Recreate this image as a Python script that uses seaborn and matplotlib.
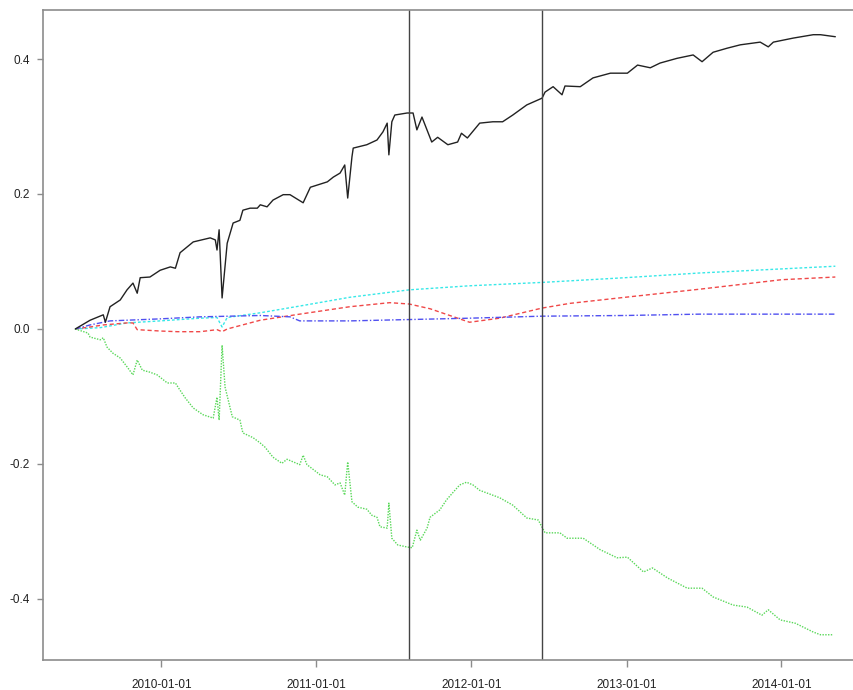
import matplotlib
matplotlib.use("Agg")
import matplotlib.pyplot as plt
import matplotlib.dates as mdates
import pandas as pd
import seaborn as sns

# ---- data ----
black_dates = ["2009-06-12", "2009-07-17", "2009-08-17", "2009-08-22", "2009-09-02", "2009-09-26",
               "2009-10-12", "2009-10-26", "2009-11-05", "2009-11-12", "2009-12-05", "2009-12-29",
               "2010-01-22", "2010-02-03", "2010-02-14", "2010-03-17", "2010-04-26", "2010-05-08",
               "2010-05-12", "2010-05-17", "2010-05-24", "2010-06-05", "2010-06-19", "2010-07-05",
               "2010-07-12", "2010-07-29", "2010-08-15", "2010-08-22", "2010-09-07", "2010-09-21",
               "2010-10-15", "2010-10-31", "2010-12-01", "2010-12-18", "2011-01-27", "2011-02-10",
               "2011-02-26", "2011-03-09", "2011-03-16", "2011-03-26", "2011-03-29", "2011-04-30",
               "2011-05-24", "2011-06-07", "2011-06-17", "2011-06-21", "2011-06-28", "2011-07-05",
               "2011-08-03", "2011-08-17", "2011-08-26", "2011-09-07", "2011-09-30", "2011-10-14",
               "2011-11-07", "2011-11-30", "2011-12-09", "2011-12-23", "2012-01-21", "2012-02-21",
               "2012-03-15", "2012-04-08", "2012-05-11", "2012-06-16", "2012-06-23", "2012-07-12",
               "2012-08-02", "2012-08-09", "2012-09-14", "2012-10-14", "2012-11-24", "2013-01-03",
               "2013-01-27", "2013-02-26", "2013-03-21", "2013-04-30", "2013-06-07", "2013-06-28",
               "2013-07-24", "2013-08-26", "2013-09-26", "2013-11-12", "2013-12-01", "2013-12-13",
               "2014-01-29", "2014-03-17", "2014-04-03", "2014-05-08"]
black_values = [0.000, 0.013, 0.021, 0.010, 0.033, 0.043,
                0.058, 0.068, 0.053, 0.076, 0.077, 0.087,
                0.092, 0.090, 0.113, 0.129, 0.135, 0.132,
                0.117, 0.147, 0.046, 0.127, 0.157, 0.161,
                0.176, 0.179, 0.179, 0.184, 0.181, 0.191,
                0.199, 0.199, 0.187, 0.210, 0.218, 0.225,
                0.231, 0.243, 0.194, 0.255, 0.268, 0.273,
                0.280, 0.292, 0.305, 0.258, 0.307, 0.317,
                0.320, 0.320, 0.295, 0.314, 0.277, 0.284,
                0.273, 0.277, 0.290, 0.283, 0.305, 0.307,
                0.307, 0.317, 0.332, 0.342, 0.351, 0.359,
                0.347, 0.360, 0.359, 0.372, 0.379, 0.379,
                0.391, 0.387, 0.394, 0.401, 0.406, 0.396,
                0.410, 0.416, 0.421, 0.425, 0.418, 0.425,
                0.431, 0.436, 0.436, 0.433]

green_dates = ["2009-06-12", "2009-07-12", "2009-07-17", "2009-08-10", "2009-08-17", "2009-08-26",
               "2009-09-09", "2009-09-26", "2009-10-12", "2009-10-26", "2009-11-05", "2009-11-17",
               "2009-12-05", "2009-12-22", "2010-01-15", "2010-02-03", "2010-02-10", "2010-02-26",
               "2010-03-17", "2010-04-09", "2010-05-03", "2010-05-12", "2010-05-17", "2010-05-24",
               "2010-05-31", "2010-06-17", "2010-07-05", "2010-07-12", "2010-08-05", "2010-08-22",
               "2010-09-02", "2010-09-21", "2010-10-12", "2010-10-24", "2010-11-23", "2010-12-01",
               "2010-12-10", "2011-01-10", "2011-01-27", "2011-02-14", "2011-02-26", "2011-03-09",
               "2011-03-16", "2011-03-26", "2011-04-09", "2011-04-30", "2011-05-12", "2011-05-24",
               "2011-05-31", "2011-06-17", "2011-06-21", "2011-06-28", "2011-07-12", "2011-08-03",
               "2011-08-15", "2011-08-26", "2011-09-03", "2011-09-19", "2011-09-26", "2011-10-19",
               "2011-11-04", "2011-11-18", "2011-12-05", "2011-12-21", "2012-01-05", "2012-01-21",
               "2012-03-08", "2012-04-08", "2012-05-11", "2012-06-07", "2012-06-23", "2012-07-28",
               "2012-08-14", "2012-09-21", "2012-10-31", "2012-12-10", "2013-01-03", "2013-02-10",
               "2013-03-03", "2013-04-08", "2013-05-24", "2013-06-28", "2013-07-24", "2013-09-09",
               "2013-10-12", "2013-11-16", "2013-12-01", "2013-12-29", "2014-02-03", "2014-03-17",
               "2014-04-03", "2014-05-03"]
green_values = [0.000, -0.006, -0.012, -0.016, -0.013, -0.027,
                -0.036, -0.043, -0.056, -0.068, -0.046, -0.061,
                -0.064, -0.068, -0.080, -0.080, -0.087, -0.102,
                -0.117, -0.127, -0.132, -0.101, -0.135, -0.024,
                -0.086, -0.130, -0.135, -0.154, -0.161, -0.169,
                -0.175, -0.190, -0.199, -0.193, -0.201, -0.187,
                -0.201, -0.216, -0.219, -0.231, -0.228, -0.246,
                -0.197, -0.256, -0.264, -0.267, -0.276, -0.279,
                -0.293, -0.295, -0.258, -0.310, -0.320, -0.323,
                -0.324, -0.298, -0.313, -0.295, -0.279, -0.268,
                -0.253, -0.243, -0.231, -0.227, -0.231, -0.239,
                -0.250, -0.261, -0.280, -0.283, -0.302, -0.302,
                -0.310, -0.310, -0.327, -0.339, -0.338, -0.360,
                -0.354, -0.369, -0.384, -0.384, -0.397, -0.409,
                -0.412, -0.424, -0.416, -0.431, -0.436, -0.449,
                -0.453, -0.453]

cyan_dates = ["2009-06-12", "2009-08-10", "2009-10-12", "2009-12-29", "2010-04-02", "2010-05-12",
              "2010-05-24", "2010-06-05", "2010-08-22", "2010-11-23", "2011-03-21", "2011-08-08",
              "2011-12-28", "2012-06-16", "2012-12-29", "2013-06-23", "2014-01-01", "2014-05-08"]
cyan_values = [0.000, 0.002, 0.009, 0.012, 0.016, 0.017,
               0.003, 0.017, 0.024, 0.034, 0.047, 0.058,
               0.064, 0.069, 0.076, 0.083, 0.089, 0.093]

red_dates = ["2009-06-12", "2009-07-17", "2009-08-17", "2009-10-12", "2009-10-26", "2009-11-05",
             "2009-12-29", "2010-02-08", "2010-04-02", "2010-05-12", "2010-05-24", "2010-06-05",
             "2010-08-22", "2010-11-23", "2011-03-21", "2011-06-23", "2011-08-08", "2011-09-26",
             "2011-12-28", "2012-03-08", "2012-06-16", "2012-08-21", "2012-12-29", "2013-06-23",
             "2014-01-01", "2014-05-08"]
red_values = [0.000, 0.003, 0.006, 0.009, 0.009, -0.001,
              -0.003, -0.004, -0.004, -0.001, -0.004, 0.000,
              0.013, 0.022, 0.033, 0.039, 0.037, 0.030,
              0.010, 0.016, 0.031, 0.038, 0.047, 0.059,
              0.073, 0.077]

blue_dates = ["2009-06-12", "2009-07-17", "2009-09-02", "2009-12-29", "2010-04-02", "2010-08-22",
              "2010-10-31", "2010-11-23", "2011-03-21", "2011-08-08", "2011-12-28", "2012-06-16",
              "2012-12-29", "2013-06-23", "2014-05-08"]
blue_values = [0.000, 0.006, 0.012, 0.015, 0.018, 0.020,
               0.018, 0.012, 0.012, 0.014, 0.016, 0.019,
               0.020, 0.022, 0.022]

vline_dates = ["2011-08-08", "2012-06-16"]
xtick_labels = ["2010-01-01", "2011-01-01", "2012-01-01", "2013-01-01", "2014-01-01"]
ytick_values = [-0.4, -0.2, 0.0, 0.2, 0.4]
ytick_labels = ["-0.4", "-0.2", "0.0", "0.2", "0.4"]

# ---- figure ----
sns.set_style("white")
plt.rcParams["font.family"] = ["Liberation Sans", "DejaVu Sans"]

fig = plt.figure(figsize=(8.54, 6.90), dpi=100)
ax = fig.add_axes([43 / 854, 30 / 690, 1.0 - 43 / 854, 650 / 690])

def frame(d, v):
    return pd.DataFrame({"date": pd.to_datetime(d), "value": v})

series = [
    (cyan_dates, cyan_values, "#38e8e8", (0, (2, 1.5))),
    (red_dates, red_values, "#f04848", (0, (3, 2))),
    (blue_dates, blue_values, "#5050f0", (0, (4, 1.5, 1, 1.5))),
    (green_dates, green_values, "#58d858", (0, (1, 1))),
    (black_dates, black_values, "#222222", "-"),
]
for d, v, c, ls in series:
    sns.lineplot(data=frame(d, v), x="date", y="value", ax=ax, color=c,
                 linewidth=1.0, linestyle=ls, estimator=None, sort=False)

for d in vline_dates:
    ax.axvline(pd.Timestamp(d), color="#444444", linewidth=1.0)

ax.set_xlim(pd.Timestamp("2009-03-28"), pd.Timestamp("2014-06-21"))
ax.set_ylim(-0.4904, 0.4726)

ax.set_xticks(pd.to_datetime(xtick_labels))
ax.set_xticklabels(xtick_labels)
ax.set_yticks(ytick_values)
ax.set_yticklabels(ytick_labels)

ax.set_xlabel("")
ax.set_ylabel("")

for side in ["left", "top", "bottom"]:
    ax.spines[side].set_visible(True)
    ax.spines[side].set_color("#8c8c8c")
    ax.spines[side].set_linewidth(1.2)
ax.spines["right"].set_visible(False)

ax.tick_params(axis="x", direction="out", length=5, width=1, color="#8c8c8c",
               pad=9, labelsize=8.5, labelcolor="#222222", bottom=True)
ax.tick_params(axis="y", direction="out", length=4.5, width=1, color="#8c8c8c",
               pad=5, labelsize=8.5, labelcolor="#222222", left=True)

fig.savefig("out.png", dpi=100)
